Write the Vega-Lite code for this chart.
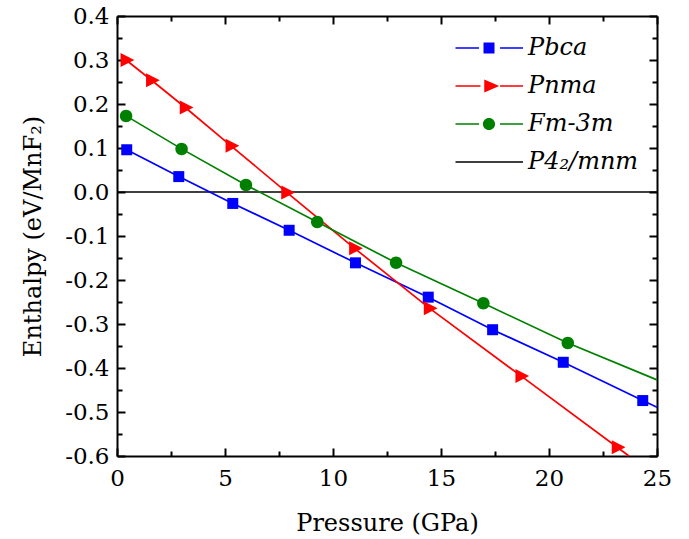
{
  "$schema": "https://vega.github.io/schema/vega-lite/v6.json",
  "width": 540,
  "height": 440,
  "autosize": {"type": "none"},
  "padding": {"left": 117, "top": 16, "right": 32, "bottom": 83},
  "background": "white",
  "config": {
    "view": {"stroke": null},
    "font": "DejaVu Serif",
    "axis": {
      "grid": false,
      "domainColor": "black",
      "domainWidth": 2,
      "tickColor": "black",
      "tickWidth": 2,
      "labelColor": "black",
      "labelFont": "DejaVu Serif",
      "labelFontSize": 23,
      "titleFont": "DejaVu Serif",
      "titleFontSize": 24,
      "titleFontWeight": "normal",
      "titleColor": "black"
    }
  },
  "data": {
    "values": [
      {"phase": "P4₂/mnm", "p": 0, "h": 0, "marker": false},
      {"phase": "P4₂/mnm", "p": 25, "h": 0, "marker": false},
      {"phase": "Pbca", "p": 0.45, "h": 0.096, "marker": true},
      {"phase": "Pbca", "p": 2.86, "h": 0.035, "marker": true},
      {"phase": "Pbca", "p": 5.36, "h": -0.026, "marker": true},
      {"phase": "Pbca", "p": 7.97, "h": -0.087, "marker": true},
      {"phase": "Pbca", "p": 11.04, "h": -0.161, "marker": true},
      {"phase": "Pbca", "p": 14.41, "h": -0.239, "marker": true},
      {"phase": "Pbca", "p": 17.39, "h": -0.313, "marker": true},
      {"phase": "Pbca", "p": 20.66, "h": -0.387, "marker": true},
      {"phase": "Pbca", "p": 24.34, "h": -0.474, "marker": true},
      {"phase": "Pbca", "p": 25, "h": -0.489, "marker": false},
      {"phase": "Pnma", "p": 0.42, "h": 0.300, "marker": true},
      {"phase": "Pnma", "p": 1.6, "h": 0.254, "marker": true},
      {"phase": "Pnma", "p": 3.16, "h": 0.192, "marker": true},
      {"phase": "Pnma", "p": 5.28, "h": 0.105, "marker": true},
      {"phase": "Pnma", "p": 7.86, "h": -0.001, "marker": true},
      {"phase": "Pnma", "p": 11.0, "h": -0.128, "marker": true},
      {"phase": "Pnma", "p": 14.46, "h": -0.264, "marker": true},
      {"phase": "Pnma", "p": 18.7, "h": -0.418, "marker": true},
      {"phase": "Pnma", "p": 23.16, "h": -0.58, "marker": true},
      {"phase": "Pnma", "p": 23.7, "h": -0.6, "marker": false},
      {"phase": "Fm-3m", "p": 0.42, "h": 0.173, "marker": true},
      {"phase": "Fm-3m", "p": 2.99, "h": 0.098, "marker": true},
      {"phase": "Fm-3m", "p": 5.97, "h": 0.016, "marker": true},
      {"phase": "Fm-3m", "p": 9.27, "h": -0.068, "marker": true},
      {"phase": "Fm-3m", "p": 12.92, "h": -0.161, "marker": true},
      {"phase": "Fm-3m", "p": 16.96, "h": -0.253, "marker": true},
      {"phase": "Fm-3m", "p": 20.87, "h": -0.343, "marker": true},
      {"phase": "Fm-3m", "p": 25, "h": -0.427, "marker": false}
    ]
  },
  "layer": [
    {
      "transform": [{"filter": "datum.phase === 'P4₂/mnm'"}],
      "mark": {"type": "line", "color": "black", "strokeWidth": 1.7},
      "encoding": {
        "x": {"field": "p", "type": "quantitative", "scale": {"domain": [0, 25], "nice": false, "zero": false},
          "axis": {"orient": "top", "values": [0, 5, 10, 15, 20, 25], "tickSize": -8, "labels": false, "title": null}},
        "y": {"field": "h", "type": "quantitative", "scale": {"domain": [-0.6, 0.4], "nice": false, "zero": false},
          "axis": {"orient": "right", "values": [-0.6, -0.5, -0.4, -0.3, -0.2, -0.1, 0, 0.1, 0.2, 0.3, 0.4], "tickSize": -8, "labels": false, "title": null}}
      }
    },
    {
      "transform": [{"filter": "datum.phase !== 'P4₂/mnm'"}],
      "mark": {"type": "line", "strokeWidth": 1.7},
      "encoding": {
        "x": {"field": "p", "type": "quantitative",
          "axis": {"orient": "bottom", "values": [0, 5, 10, 15, 20, 25], "tickSize": -8, "labelPadding": 19, "labelFlush": false, "labelOverlap": false, "format": "d", "title": "Pressure (GPa)", "titlePadding": 21}},
        "y": {"field": "h", "type": "quantitative",
          "axis": {"orient": "left", "values": [-0.6, -0.5, -0.4, -0.3, -0.2, -0.1, 0, 0.1, 0.2, 0.3, 0.4], "tickSize": -8, "labelPadding": 16, "labelFlush": false, "labelOverlap": false,
            "labelExpr": "(datum.value < -0.00001 ? '-' : '') + format(abs(datum.value), '.1f')", "title": "Enthalpy (eV/MnF₂)", "titlePadding": 19}},
        "color": {"field": "phase", "type": "nominal", "scale": {"domain": ["Pbca", "Pnma", "Fm-3m"], "range": ["#0000ff", "#ff0000", "#008000"]}, "legend": null},
        "order": {"field": "p", "type": "quantitative"}
      }
    },
    {
      "transform": [{"filter": "datum.marker"}],
      "mark": {"type": "point", "filled": true, "opacity": 1, "size": 100},
      "encoding": {
        "x": {"field": "p", "type": "quantitative",
          "axis": {"orient": "bottom", "values": [2.5, 7.5, 12.5, 17.5, 22.5], "tickSize": -5, "labels": false, "domain": false, "title": null}},
        "y": {"field": "h", "type": "quantitative",
          "axis": {"orient": "left", "values": [-0.55, -0.45, -0.35, -0.25, -0.15, -0.05, 0.05, 0.15, 0.25, 0.35], "tickSize": -5, "labels": false, "domain": false, "title": null}},
        "color": {"field": "phase", "type": "nominal", "legend": null},
        "shape": {"field": "phase", "type": "nominal", "legend": null,
          "scale": {"domain": ["Pbca", "Pnma", "Fm-3m"],
            "range": ["M-1.1,-1.1H1.1V1.1H-1.1Z", "M-1.1,-1.4L1.65,0L-1.1,1.4Z", "M1.25,0A1.25,1.25,0,1,1,-1.25,0A1.25,1.25,0,1,1,1.25,0Z"]}}
      }
    },
    {
      "mark": {"type": "point", "filled": true, "opacity": 0, "size": 100},
      "encoding": {
        "x": {"field": "p", "type": "quantitative",
          "axis": {"orient": "top", "values": [2.5, 7.5, 12.5, 17.5, 22.5], "tickSize": -5, "labels": false, "domain": false, "title": null}},
        "y": {"field": "h", "type": "quantitative",
          "axis": {"orient": "right", "values": [-0.55, -0.45, -0.35, -0.25, -0.15, -0.05, 0.05, 0.15, 0.25, 0.35], "tickSize": -5, "labels": false, "domain": false, "title": null}},
        "fill": {"field": "phase", "type": "nominal",
          "scale": {"domain": ["Pbca", "Pnma", "Fm-3m", "P4₂/mnm"], "range": ["#0000ff", "#ff0000", "#008000", "#000000"]},
          "legend": {"orient": "none", "legendX": 360, "legendY": 20, "title": null, "padding": 0, "symbolSize": 100, "symbolOpacity": 1, "symbolStrokeWidth": 0, "labelFont": "DejaVu Serif", "labelFontStyle": "italic", "labelFontSize": 24, "labelColor": "black", "labelOffset": 27, "rowPadding": 14, "labelLimit": 300}},
        "shape": {"field": "phase", "type": "nominal",
          "scale": {"domain": ["Pbca", "Pnma", "Fm-3m", "P4₂/mnm"],
            "range": [
              "M-6.7,-0.17H-2.0V0.17H-6.7Z M2.2,-0.17H6.8V0.17H2.2Z M-1.1,-1.1H1.1V1.1H-1.1Z",
              "M-6.7,-0.17H-1.7V0.17H-6.7Z M2.2,-0.17H6.8V0.17H2.2Z M-0.95,-1.3L2.05,0L-0.95,1.3Z",
              "M-6.7,-0.17H-2.0V0.17H-6.7Z M2.2,-0.17H6.8V0.17H2.2Z M1.22,0A1.22,1.22,0,1,1,-1.22,0A1.22,1.22,0,1,1,1.22,0Z",
              "M-6.7,-0.17H6.8V0.17H-6.7Z"]},
          "legend": {"orient": "none", "legendX": 360, "legendY": 20, "title": null, "padding": 0, "symbolSize": 100, "symbolOpacity": 1, "symbolStrokeWidth": 0, "labelFont": "DejaVu Serif", "labelFontStyle": "italic", "labelFontSize": 24, "labelColor": "black", "labelOffset": 27, "rowPadding": 14, "labelLimit": 300}}
      }
    }
  ],
  "resolve": {
    "scale": {"shape": "independent", "fill": "independent"},
    "axis": {"x": "independent", "y": "independent"}
  }
}
